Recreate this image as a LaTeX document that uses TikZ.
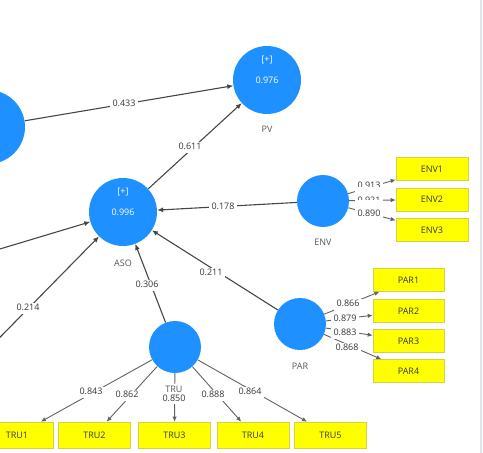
\documentclass[tikz,border=0pt]{standalone}
\usepackage{fontspec}
\setmainfont{Open Sans}
\usetikzlibrary{arrows.meta,positioning}

\definecolor{plsblue}{RGB}{30,144,255}
\definecolor{plsyellow}{RGB}{255,255,0}
\definecolor{boxrim}{RGB}{210,210,70}
\definecolor{linegray}{RGB}{70,70,70}
\definecolor{txtgray}{RGB}{55,55,55}
\definecolor{namegray}{RGB}{85,85,85}
\definecolor{edgeline}{RGB}{222,228,238}

\tikzset{
  lv/.style={circle,fill=plsblue,inner sep=0pt,minimum size=68pt,text=white,font=\fontsize{9}{10}\selectfont},
  lvsmall/.style={lv,minimum size=52pt},
  lvplus/.style={inner sep=0pt,text=white,font=\fontsize{9}{10}\selectfont},
  lvname/.style={fill=white,inner sep=1.5pt,text=namegray,font=\fontsize{9}{10}\selectfont},
  mv/.style={draw=boxrim,fill=plsyellow,line width=0.6pt,minimum width=72pt,minimum height=23pt,inner sep=0pt,text=txtgray,font=\fontsize{9}{10}\selectfont},
  link/.style={draw=linegray,line width=1.1pt,-{Latex[length=6pt,width=5pt]}},
  load/.style={draw=linegray!85,line width=0.9pt,-{Latex[length=5pt,width=4.5pt]}},
  coef/.style={fill=white,text=txtgray,inner xsep=3pt,inner ysep=1.5pt,text height=6.5pt,text depth=1.5pt,font=\fontsize{9}{10}\selectfont},
  coeftall/.style={coef,text height=15pt,anchor=base},
}

\begin{document}
\begin{tikzpicture}[x=1pt,y=-1pt]
  \useasboundingbox (0,0) rectangle (483,453);
  \clip (0,0) rectangle (483,453);
  % latent variables
  \node[lv,minimum size=74pt] (left) at (-12,127) {};
  \node[lv] (pv)  at (267,80)  {0.976};
  \node[lv] (aso) at (123,212) {0.996};
  \node[lvsmall] (env) at (323,201) {};
  \node[lvsmall] (par) at (300,324) {};
  \node[lvsmall] (tru) at (175,347) {};
  \node[lvplus] (pvplus)  at ([yshift=20pt]pv.center)  {[+]};
  \node[lvplus] (asoplus) at ([yshift=20pt]aso.center) {[+]};
  \coordinate (srcA) at (-60,267);
  \coordinate (srcB) at (-40,378);
  % indicators
  \node[mv] (env1) at (432,169)   {ENV1};
  \node[mv] (env2) at (432,199.5) {ENV2};
  \node[mv] (env3) at (432,230)   {ENV3};
  \node[mv,minimum width=71pt] (par1) at (408.5,280) {PAR1};
  \node[mv,minimum width=71pt] (par2) at (408.5,311) {PAR2};
  \node[mv,minimum width=71pt] (par3) at (408.5,341) {PAR3};
  \node[mv,minimum width=71pt] (par4) at (408.5,371) {PAR4};
  \node[mv,minimum height=26pt] (tru1) at (17,435)    {TRU1};
  \node[mv,minimum height=26pt] (tru2) at (94.5,435)  {TRU2};
  \node[mv,minimum height=26pt] (tru3) at (174.5,435) {TRU3};
  \node[mv,minimum height=26pt] (tru4) at (253,435)   {TRU4};
  \node[mv,minimum height=26pt] (tru5) at (330.5,435) {TRU5};
  % inner model
  \draw[link] (left) -- (pv);
  \draw[link] (aso) -- (pv);
  \draw[link] (env) -- (aso);
  \draw[link] (par) -- (aso);
  \draw[link] (tru) -- (aso);
  \draw[link] (srcA) -- (aso);
  \draw[link] (srcB) -- (aso);
  % outer model
  \draw[load] (env) -- (env1);
  \draw[load] (env) -- (env2);
  \draw[load] (env) -- (env3);
  \draw[load] (par) -- (par1);
  \draw[load] (par) -- (par2);
  \draw[load] (par) -- (par3);
  \draw[load] (par) -- (par4);
  \draw[load] (tru) -- (tru1);
  \draw[load] (tru) -- (tru2);
  \draw[load] (tru) -- (tru3);
  \draw[load] (tru) -- (tru4);
  \draw[load] (tru) -- (tru5);
  % names under the circles
  \node[lvname,below=10pt of pv]  (pvname)  {PV};
  \node[lvname,below=12pt of aso] (asoname) {ASO};
  \node[lvname,below=10pt of env] (envname) {ENV};
  \node[lvname,below=11pt of par] (parname) {PAR};
  \node[lvname] (truname) at (174,389) {TRU};
  % path coefficients
  \node[coef] (c433) at (124,104) {0.433};
  \node[coef] (c611) at (190,147) {0.611};
  \node[coef] (c178) at (223,207) {0.178};
  \node[coef] (c211) at (211,273) {0.211};
  \node[coef] (c306) at (147,285) {0.306};
  \node[coef] (c214) at (28,308)  {0.214};
  % loadings
  \node[coeftall] (l913) at (369,188.5) {0.913};
  \node[coeftall] (l921) at (369,203.5) {0.921};
  \node[coeftall] (l890) at (369,216.5) {0.890};
  \node[coef] (l879) at (345,319) {0.879};
  \node[coef,text depth=5pt] (l866) at (348,306) {0.866};
  \node[coef] (l883) at (345,333) {0.883};
  \node[coef] (l868) at (347,348) {0.868};
  \node[coef] (l843) at (91,392)  {0.843};
  \node[coef] (l862) at (127,395) {0.862};
  \node[coef,inner ysep=0.5pt] (l850) at (174,399) {0.850};
  \node[coef] (l888) at (213,395) {0.888};
  \node[coef] (l864) at (250,392) {0.864};
  % window edge
  \draw[edgeline,line width=2pt] (481,0) -- (481,453);
\end{tikzpicture}
\end{document}
